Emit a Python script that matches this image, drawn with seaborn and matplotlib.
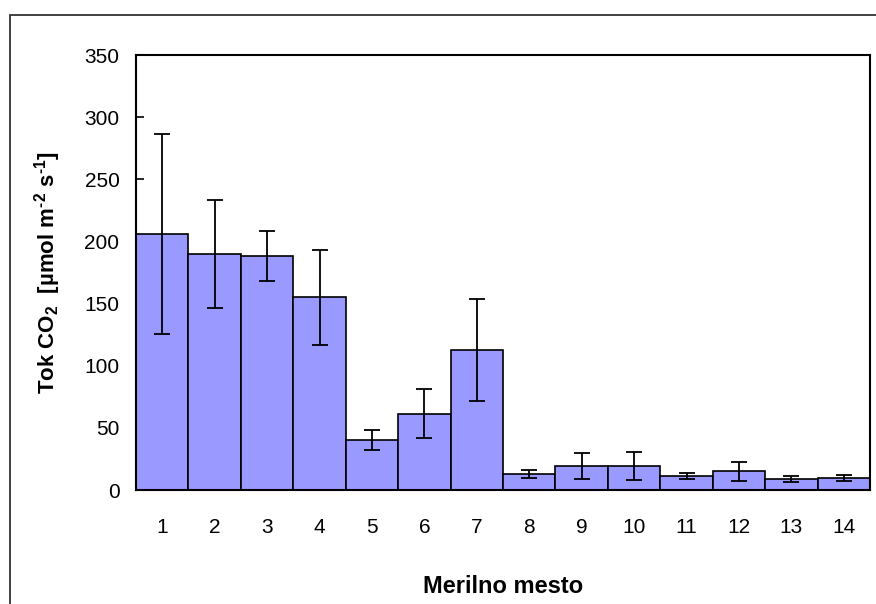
import matplotlib
matplotlib.use("Agg")
import matplotlib.pyplot as plt
import matplotlib.patches as patches
import seaborn as sns
import numpy as np
import pandas as pd

# values
sites = [str(i) for i in range(1, 15)]
flux_mean = [206, 190, 188.5, 155, 40.5, 61.5, 113, 13, 19.5, 19.5, 11.5, 15, 8.5, 10]
flux_err = [80.5, 43.5, 20, 38.5, 8, 20, 41, 3.2, 10.6, 11.4, 2.3, 7.4, 2.4, 2.4]

df = pd.DataFrame({"site": sites, "flux": flux_mean, "err": flux_err})

sns.set_theme(style="white")
plt.rcParams["font.family"] = ["Liberation Sans", "DejaVu Sans"]
plt.rcParams["text.color"] = "black"
plt.rcParams["axes.labelcolor"] = "black"
plt.rcParams["mathtext.fontset"] = "custom"
plt.rcParams["mathtext.rm"] = "Liberation Sans:bold"
plt.rcParams["mathtext.bf"] = "Liberation Sans:bold"
plt.rcParams["mathtext.default"] = "rm"

fig = plt.figure(figsize=(8.76, 6.04), dpi=100)
ax = fig.add_axes([0.1553, 0.1887, 0.8379, 0.7202])

# outer chart frame, running off the right and bottom edge
frame = patches.Rectangle((10 / 876, -0.1), 1.2, 1 - 15 / 604 + 0.1,
                          transform=fig.transFigure, fill=False,
                          edgecolor="#333333", linewidth=1.3, zorder=-1)
fig.patches.append(frame)

sns.barplot(data=df, x="site", y="flux", color="#9999FF", saturation=1,
            width=1, edgecolor="black", linewidth=1.2, errorbar=None, ax=ax)
ax.errorbar(np.arange(len(sites)), df["flux"], yerr=df["err"], fmt="none",
            ecolor="black", elinewidth=1.3, capsize=5.5, capthick=1.3)

ax.set_xlim(-0.5, len(sites) - 0.5)
ax.set_ylim(0, 350)
ax.set_yticks(np.arange(0, 351, 50))
ax.tick_params(axis="y", direction="in", length=6, width=1.2, pad=12,
               labelsize=15, left=True, colors="black")
ax.tick_params(axis="x", length=0, pad=20, labelsize=15, colors="black")
for s in ax.spines.values():
    s.set_visible(True)
    s.set_color("black")
    s.set_linewidth(1.5)

ax.set_xlabel("Merilno mesto", fontsize=17, fontweight="bold", color="black")
ax.set_ylabel(r"Tok CO$_2$  [µmol m$^{\text{-}2}$ s$^{\text{-}1}$]",
              fontsize=16, fontweight="bold", color="black")
ax.xaxis.set_label_coords(0.5, -0.195)
ax.yaxis.set_label_coords(-0.10, 0.5)

fig.savefig("out.png", dpi=100)
